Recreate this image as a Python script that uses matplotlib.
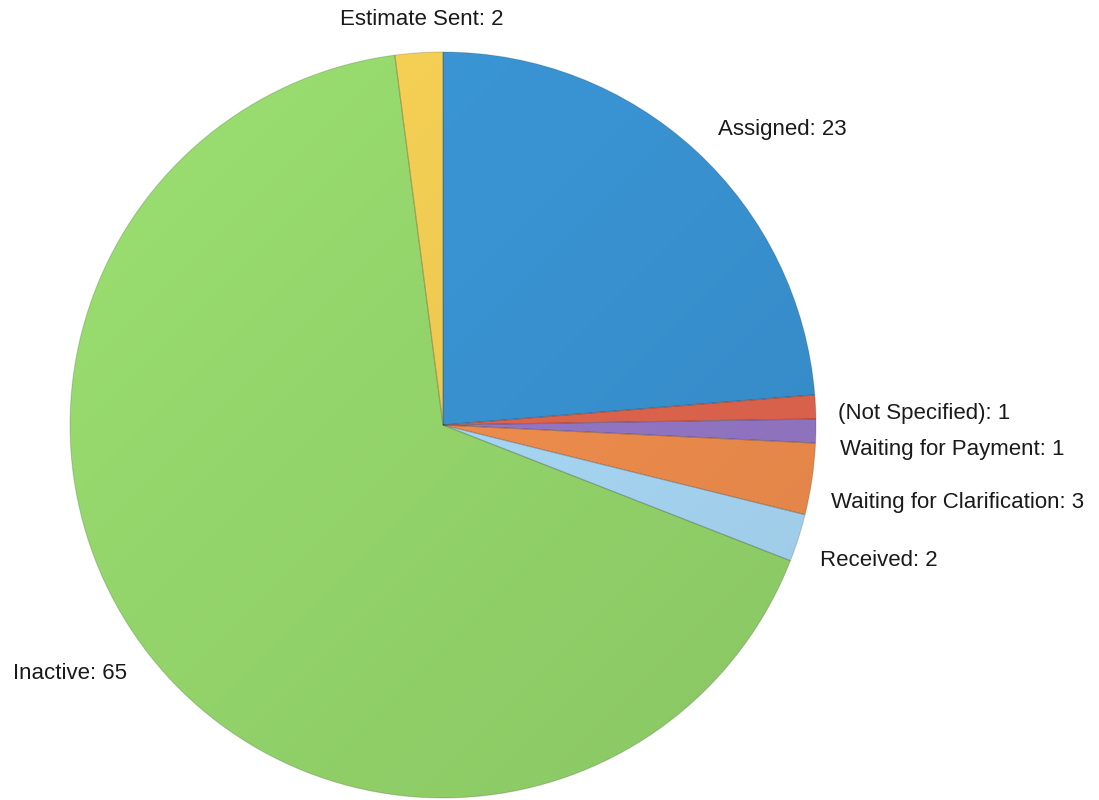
import numpy as np
import matplotlib.pyplot as plt
import matplotlib.colors as mcolors

# data
labels = ["Assigned", "(Not Specified)", "Waiting for Payment",
          "Waiting for Clarification", "Received", "Inactive", "Estimate Sent"]
counts = [23, 1, 1, 3, 2, 65, 2]
colors = ["#3992d1", "#e0654e", "#9577c6", "#ef8d4d", "#a8d8f5", "#94d56b", "#efcb52"]

# label anchors (data units, radius = 1) and alignment
label_pos = [(0.737, 0.791), (1.059, 0.032), (1.064, -0.067), (1.040, -0.209),
             (1.011, -0.362), (-0.847, -0.665), (-0.056, 1.088)]
label_ha = ["left", "left", "left", "left", "left", "right", "center"]

W, H = 1099, 800
cx, cy, R = 443, 425, 373

fig = plt.figure(figsize=(W / 100, H / 100), dpi=100)
ax = fig.add_axes([0, 0, 1, 1])

wedges, texts = ax.pie(counts, labels=[f"{l}: {c}" for l, c in zip(labels, counts)],
                       colors=colors, startangle=90, counterclock=False,
                       wedgeprops=dict(edgecolor=(0, 0, 0, 0.15), linewidth=0.8),
                       textprops=dict(fontsize=16, family="Liberation Sans", color="#1a1a1a"))

# soft diagonal shading like the original chart
yy, xx = np.mgrid[1:-1:300j, -1:1:300j]
shade = 1.05 - 0.12 * (xx - yy + 2) / 4
for w, c in zip(wedges, colors):
    rgb = np.array(mcolors.to_rgb(c))
    img = np.clip(rgb[None, None, :] * shade[:, :, None], 0, 1)
    im = ax.imshow(img, extent=[-1, 1, -1, 1], zorder=w.get_zorder() + 0.1, interpolation="bilinear")
    im.set_clip_path(w)
    w.set_facecolor("none")
    w.set_zorder(w.get_zorder() + 0.2)

for t, p, ha in zip(texts, label_pos, label_ha):
    t.set_position(p)
    t.set_ha(ha)
    t.set_va("center")

ax.set_aspect("auto")
ax.set_xlim(-cx / R, (W - cx) / R)
ax.set_ylim(-(H - cy) / R, cy / R)
ax.axis("off")

fig.savefig("out.png", dpi=100, facecolor="white")
